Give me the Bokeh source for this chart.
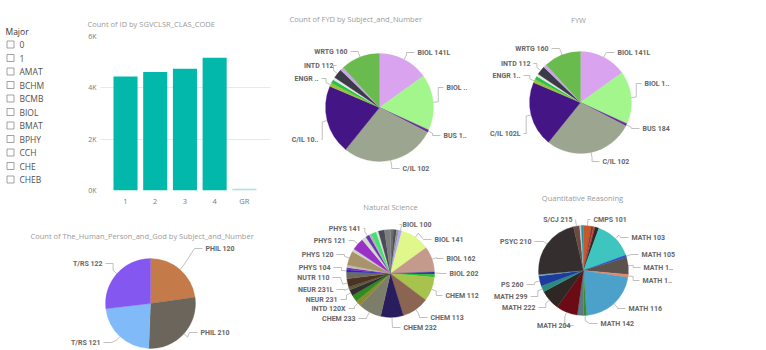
import math
from bokeh.plotting import figure
from bokeh.models import Range1d, FixedTicker, ColumnDataSource
from bokeh.layouts import row, column
from bokeh.embed import file_html
from bokeh.resources import INLINE
from bokeh.core.properties import value

# ---------------- DATA ----------------
majors = ["0", "1", "AMAT", "BCHM", "BCMB", "BIOL", "BMAT", "BPHY", "CCH", "CHE", "CHEB"]

class_codes = ["1", "2", "3", "4", "GR"]
class_counts = [4440, 4620, 4740, 5170, 70]
count_ticks = [0, 2000, 4000, 6000]
count_tick_labels = ["0K", "2K", "4K", "6K"]

fyd_labels = ["BIOL 141L", "BIOL ..", "BUS 1..", "C/IL 102", "C/IL 10..", "ENGR ..", "", "", "INTD 112", "", "WRTG 160"]
fyd_counts = [151, 167, 8, 282, 206, 11, 11, 8, 28, 11, 117]
fyw_labels = ["BIOL 141L", "BIOL 1..", "BUS 184", "C/IL 102", "C/IL 102L", "ENGR 1..", "", "", "INTD 112", "", "WRTG 160"]
fyw_counts = [151, 167, 8, 282, 206, 11, 11, 8, 28, 11, 117]
fy_colors = ["#D9A3EF", "#A3F68C", "#6B2D9C", "#9BA58F", "#441685", "#9CC13E", "#25C244",
             "#E6E6E6", "#3B3B47", "#C9A5E8", "#68BB4C"]

hpg_labels = ["PHIL 120", "PHIL 210", "T/RS 121", "T/RS 122"]
hpg_counts = [228, 278, 225, 269]
hpg_colors = ["#C57B49", "#6B655C", "#80BAF8", "#8457F0"]

ns_labels = ["", "", "", "BIOL 100", "BIOL 141", "BIOL 162", "BIOL 202", "", "CHEM 112", "CHEM 113",
             "CHEM 232", "CHEM 233", "INTD 120X", "", "NEUR 231", "NEUR 231L", "NUTR 110", "",
             "PHYS 104", "", "", "PHYS 120", "", "PHYS 121", "", "PHYS 141", "", "", "", "", ""]
ns_counts = [4, 4, 3, 4, 39, 34, 3, 4, 32, 36, 30, 31, 7, 9, 8, 4, 11, 9, 3, 3, 3, 19, 4, 16, 6, 5, 3, 7, 3, 8, 8]
ns_colors = ["#6E6E6E", "#4E4E5E", "#8E9A84", "#B4A6F6", "#DFF78B", "#C49A8C", "#2E2E9C", "#2DBE2D",
             "#A8C24E", "#8C6552", "#2A1D5E", "#7D7E69", "#8B8A2E", "#2F8C1E", "#2F2F2F", "#5B5A3A",
             "#4B3222", "#6C6C5E", "#2A2AB4", "#7B2AC8", "#BAC2B2", "#A8936A", "#CBD3C2", "#9B30C8",
             "#D2DAC8", "#6A33B8", "#B4B4B4", "#44E070", "#DDE3D5", "#4A4A58", "#7E7E7E"]

qr_labels = ["CMPS 101", "", "", "", "MATH 103", "MATH 105", "MATH 1..", "MATH 1..", "MATH 116", "MATH 142",
             "", "MATH 204", "MATH 222", "MATH 299", "PS 260", "", "PSYC 210", "S/CJ 215", "", ""]
qr_counts = [10, 3, 2, 5, 50, 3, 22, 4, 77, 4, 8, 28, 26, 8, 13, 2, 82, 8, 2, 3]
qr_colors = ["#C45A2C", "#8B3A2E", "#D83A3A", "#2B2B2B", "#3FC5C0", "#2552D0", "#5B514D", "#E08B6B",
             "#4BA1C9", "#3A8B30", "#5A7A82", "#6B0B16", "#2F2723", "#2B8B82", "#1C3C9C", "#72A2C2",
             "#342E2E", "#6B4B41", "#D6D6D6", "#2590A6"]

# ---------------- STYLE ----------------
TITLE_FONT = value("Open Sans")
TITLE_COLOR = "#9a9a9a"
LABEL_FONT = value("Roboto")
LABEL_COLOR = "#666666"
LEADER_COLOR = "#b0b0b0"


def px_fig(ox, oy, w, h):
    p = figure(width=w, height=h, x_range=Range1d(ox, ox + w), y_range=Range1d(oy + h, oy),
               x_axis_location=None, y_axis_location=None, toolbar_location=None,
               output_backend="svg", min_border=0, outline_line_color=None,
               background_fill_color="white", border_fill_color="white")
    p.grid.visible = False
    return p


def add_title(p, text, x, y, align="left"):
    p.text(x=[x], y=[y], text=[text], text_font=TITLE_FONT, text_font_size="7.5px",
           text_color=TITLE_COLOR, text_align=align, text_baseline="middle")


def draw_pie(p, cx, cy, r, counts, colors, labels, placements):
    total = float(sum(counts))
    starts, ends, mids = [], [], []
    cum = 0.0
    for c in counts:
        t1 = cum / total * 2 * math.pi
        cum += c
        t2 = cum / total * 2 * math.pi
        starts.append(math.pi / 2 - t2)
        ends.append(math.pi / 2 - t1)
        mids.append((t1 + t2) / 2)
    src = ColumnDataSource(dict(start=starts, end=ends, color=colors))
    p.wedge(x=cx, y=cy, radius=r, radius_units="screen", start_angle="start", end_angle="end",
            fill_color="color", line_color="color", line_width=0.3, source=src)
    xs_l, ys_l, tx, ty, tt, ta = [], [], [], [], [], []
    for idx, lx, ly, side in placements:
        th = mids[idx]
        p0 = (cx + r * math.sin(th), cy - r * math.cos(th))
        p1 = (cx + (r + 5) * math.sin(th), cy - (r + 5) * math.cos(th))
        if side == "r":
            p3 = (lx - 3, ly)
            pm = (max(p1[0], p3[0] - 8), ly)
        else:
            p3 = (lx + 3, ly)
            pm = (min(p1[0], p3[0] + 8), ly)
        xs_l.append([p0[0], p1[0], pm[0], p3[0]])
        ys_l.append([p0[1], p1[1], pm[1], p3[1]])
        tx.append(lx)
        ty.append(ly)
        tt.append(labels[idx])
        ta.append("left" if side == "r" else "right")
    p.multi_line(xs=xs_l, ys=ys_l, line_color=LEADER_COLOR, line_width=0.8)
    lsrc = ColumnDataSource(dict(x=tx, y=ty, t=tt, a=ta))
    p.text(x="x", y="y", text="t", text_align="a", source=lsrc, text_font=LABEL_FONT,
           text_font_size="7px", text_font_style="bold", text_color=LABEL_COLOR,
           text_baseline="middle")


# ---------------- SLICER ----------------
slicer = px_fig(0, 0, 75, 215)
slicer.text(x=[5], y=[31], text=["Major"], text_font=value("Open Sans"), text_font_size="8.5px",
            text_color="#333333", text_baseline="middle")
sy = [44 + 13.5 * i for i in range(len(majors))]
slicer.rect(x=[10] * len(majors), y=sy, width=7, height=7, fill_color="white",
            line_color="#8a8a8a", line_width=0.8)
slicer.text(x=[19] * len(majors), y=sy, text=majors, text_font=value("Open Sans"),
            text_font_size="8.5px", text_color="#505050", text_baseline="middle")

# ---------------- BAR CHART ----------------
xs = list(range(1, len(class_codes) + 1))
bar = figure(width=195, height=215, x_range=Range1d(0.158, 5.88), y_range=Range1d(0, 6000),
             toolbar_location=None, output_backend="svg", min_border_left=25, min_border_right=0,
             min_border_top=36, min_border_bottom=25, outline_line_color=None,
             background_fill_color="white", border_fill_color="white",
             title="Count of ID by SGVCLSR_CLAS_CODE")
bar.title.align = "left"
bar.title.offset = -13
bar.title.standoff = 15
bar.title.text_font = "Open Sans"
bar.title.text_font_size = "7.5px"
bar.title.text_font_style = "normal"
bar.title.text_color = TITLE_COLOR
bar_colors = ["#01B8AA"] * 4 + ["#A3E2DC"]
bar.vbar(x=xs, top=class_counts, width=0.81, fill_color=bar_colors, line_color=None)
bar.xgrid.visible = False
bar.ygrid.ticker = FixedTicker(ticks=count_ticks)
bar.ygrid.grid_line_color = "#e8e8e8"
bar.yaxis.ticker = FixedTicker(ticks=count_ticks)
bar.yaxis.major_label_overrides = {t: l for t, l in zip(count_ticks, count_tick_labels)}
bar.xaxis.ticker = FixedTicker(ticks=xs)
bar.xaxis.major_label_overrides = {x: c for x, c in zip(xs, class_codes)}
for ax in (bar.xaxis, bar.yaxis):
    ax.axis_line_color = None
    ax.major_tick_line_color = None
    ax.minor_tick_line_color = None
    ax.major_tick_out = 0
    ax.major_tick_in = 0
    ax.minor_tick_out = 0
    ax.minor_tick_in = 0
    ax.major_label_text_font = "Open Sans"
    ax.major_label_text_color = "#7a7a7a"
bar.yaxis.major_label_text_font_size = "7px"
bar.xaxis.major_label_text_font_size = "7.5px"
bar.yaxis.major_label_standoff = 4
bar.xaxis.major_label_standoff = 5

# ---------------- HUMAN PERSON AND GOD ----------------
hpg = px_fig(0, 215, 270, 135)
add_title(hpg, "Count of The_Human_Person_and_God by Subject_and_Number", 30, 235)
draw_pie(hpg, 150, 303, 45, hpg_counts, hpg_colors, hpg_labels,
         [(0, 205, 248, "r"), (1, 200, 332, "r"), (2, 100, 342, "l"), (3, 102, 263, "l")])

# ---------------- FYD ----------------
fyd = px_fig(270, 0, 210, 192)
add_title(fyd, "Count of FYD by Subject_and_Number", 289, 18)
draw_pie(fyd, 379, 107, 54, fyd_counts, fy_colors, fyd_labels,
         [(0, 417, 52, "r"), (1, 446, 87, "r"), (2, 443, 135, "r"), (3, 402, 168, "r"),
          (4, 318, 139, "l"), (5, 318, 78, "l"), (8, 333, 65, "l"), (10, 347, 51, "l")])

# ---------------- NATURAL SCIENCE ----------------
ns = px_fig(270, 192, 210, 158)
add_title(ns, "Natural Science", 390, 206, "center")
draw_pie(ns, 390, 273, 44, ns_counts, ns_colors, ns_labels,
         [(3, 402, 224, "r"), (4, 434, 239, "r"), (5, 446, 258, "r"), (6, 449, 273, "r"),
          (8, 445, 295, "r"), (9, 430, 317, "r"), (10, 403, 327, "r"),
          (25, 360, 228, "l"), (23, 345, 240, "l"), (21, 333, 254, "l"), (18, 330, 267, "l"),
          (16, 329, 277, "l"), (15, 333, 289, "l"), (14, 337, 299, "l"), (12, 345, 308, "l"),
          (11, 355, 318, "l")])

# ---------------- FYW ----------------
fyw = px_fig(480, 0, 286, 192)
add_title(fyw, "FYW", 578, 19, "center")
draw_pie(fyw, 580, 102, 51, fyw_counts, fy_colors, fyw_labels,
         [(0, 617, 52, "r"), (1, 644, 83, "r"), (2, 642, 128, "r"), (3, 602, 161, "r"),
          (4, 520, 133, "l"), (5, 520, 75, "l"), (8, 530, 63, "l"), (10, 548, 48, "l")])

# ---------------- QUANTITATIVE REASONING ----------------
qr = px_fig(480, 192, 286, 158)
add_title(qr, "Quantitative Reasoning", 582, 197, "center")
draw_pie(qr, 583, 270, 45, qr_counts, qr_colors, qr_labels,
         [(0, 593, 219, "r"), (4, 631, 237, "r"), (5, 641, 254, "r"), (6, 643, 267, "r"),
          (7, 642, 280, "r"), (8, 628, 308, "r"), (9, 600, 323, "r"),
          (11, 570, 325, "l"), (12, 535, 307, "l"), (13, 527, 296, "l"), (14, 523, 284, "l"),
          (16, 531, 241, "l"), (17, 572, 219, "l")])

layout = row(
    column(row(slicer, column(bar)), hpg),
    column(fyd, ns),
    column(fyw, qr),
)

open("out.html", "w").write(file_html(layout, INLINE))
